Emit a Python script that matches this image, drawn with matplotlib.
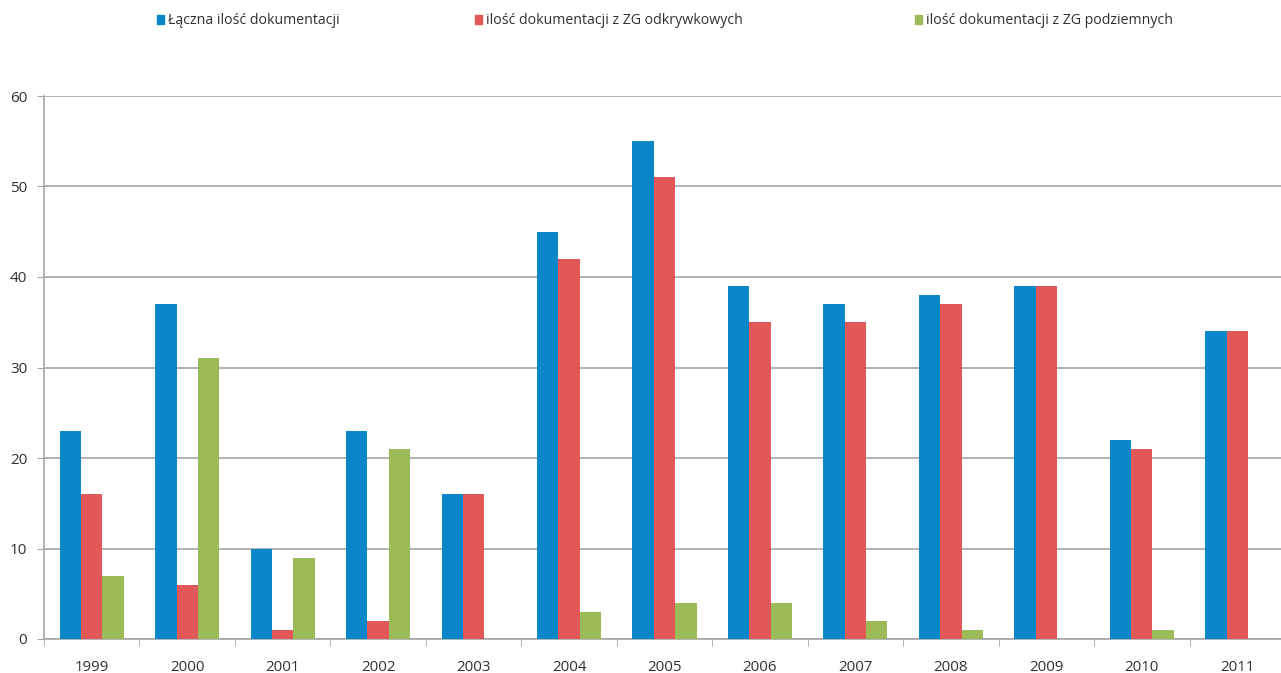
import matplotlib
matplotlib.use("Agg")
import matplotlib.pyplot as plt
from matplotlib.patches import Patch
import numpy as np

years = ["1999", "2000", "2001", "2002", "2003", "2004", "2005",
         "2006", "2007", "2008", "2009", "2010", "2011"]
total = [23, 37, 10, 23, 16, 45, 55, 39, 37, 38, 39, 22, 34]
open_pit = [16, 6, 1, 2, 16, 42, 51, 35, 35, 37, 39, 21, 34]
underground = [7, 31, 9, 21, 0, 3, 4, 4, 2, 1, 0, 1, 0]
series_labels = ["Łączna ilość dokumentacji",
                 "ilość dokumentacji z ZG odkrywkowych",
                 "ilość dokumentacji z ZG podziemnych"]
colors = ["#0A87C9", "#E25858", "#9BBB59"]

plt.rcParams["font.family"] = ["Open Sans", "DejaVu Sans"]

W, H = 1281, 673
fig = plt.figure(figsize=(W / 100, H / 100), dpi=100)
# plot area runs slightly past the right edge of the canvas
ax = fig.add_axes([44 / W, 1 - 639 / H, (1285 - 44) / W, (639 - 96) / H])

x = np.arange(len(years))
w = 0.224
for i, (vals, c, lab) in enumerate(zip([total, open_pit, underground], colors, series_labels)):
    ax.bar(x + (i - 1) * w, vals, width=w, color=c, label=lab, zorder=3)

ax.set_xlim(-0.5, len(years) - 0.5)
ax.set_ylim(0, 60)
ax.set_yticks(range(0, 61, 10))
ax.grid(axis="y", color="#A6A6A6", linewidth=1.2, zorder=0)
ax.set_xticks(x)
ax.set_xticklabels(years)
ax.set_xticks(np.arange(-0.5, len(years), 1.0), minor=True)
ax.tick_params(axis="x", which="major", length=0, pad=15, labelsize=10.8, colors="#303030")
ax.tick_params(axis="x", which="minor", length=5, color="#A6A6A6", direction="out")
ax.tick_params(axis="y", length=5, color="#A6A6A6", labelsize=11, labelcolor="#303030", pad=7)
for s in ["top", "right"]:
    ax.spines[s].set_visible(False)
for s in ["left", "bottom"]:
    ax.spines[s].set_color("#A6A6A6")
    ax.spines[s].set_linewidth(1.2)

# one legend entry per series, spaced across the top
legend_x = [157, 475, 915]
for lx, c, lab in zip(legend_x, colors, series_labels):
    leg = fig.legend([Patch(color=c)], [lab], loc="center left",
                     bbox_to_anchor=(lx / W, 1 - 21 / H), frameon=False,
                     fontsize=10.2, handlelength=0.5, handleheight=0.5,
                     handletextpad=0.3, borderaxespad=0, borderpad=0)
    for t in leg.get_texts():
        t.set_color("#303030")

fig.savefig("out.png", dpi=100, facecolor="white")
